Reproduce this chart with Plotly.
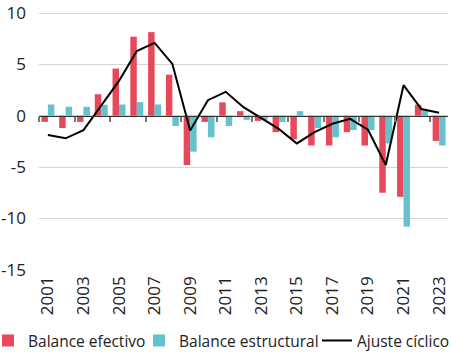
import plotly.graph_objects as go

years = [str(y) for y in range(2001, 2024)]
efectivo = [-0.6, -1.2, -0.6, 2.1, 4.6, 7.7, 8.15, 4.0, -4.8, -0.6, 1.3, 0.45,
            -0.5, -1.6, -2.3, -2.9, -2.9, -1.6, -2.9, -7.5, -7.9, 1.07, -2.45]
estructural = [1.1, 0.87, 0.87, 1.07, 1.1, 1.33, 1.1, -1.0, -3.5, -2.1, -1.0, -0.4,
               -0.4, -0.6, 0.45, -1.2, -2.1, -1.4, -1.4, -2.7, -10.8, 0.55, -2.9]
ajuste = [-1.87, -2.2, -1.4, 1.0, 3.4, 6.3, 7.1, 5.05, -1.43, 1.52, 2.33, 0.84,
          -0.2, -1.3, -2.7, -1.6, -0.78, -0.3, -1.36, -4.8, 2.98, 0.65, 0.29]
y_ticks = [10, 5, 0, -5, -10, -15]
x_labels = years[::2]

RED = "#E8495A"
CYAN = "#64C2CC"
FONT = "Open Sans"
TXT = "#222222"
ymin, ymax = -15.03, 10.5

fig = go.Figure()
fig.add_trace(go.Bar(x=years, y=efectivo, name="Balance efectivo", marker_color=RED,
                     marker_line_width=0, legend="legend"))
fig.add_trace(go.Bar(x=years, y=estructural, name="Balance estructural", marker_color=CYAN,
                     marker_line_width=0, legend="legend2"))
fig.add_trace(go.Scatter(x=years, y=ajuste, name="Ajuste cíclico", mode="lines",
                         xaxis="x2", line=dict(color="black", width=2), legend="legend3"))

leg = dict(xref="container", yref="container", y=0.037, xanchor="left", yanchor="middle",
           font=dict(family=FONT, size=15.5, color=TXT), bgcolor="rgba(0,0,0,0)",
           borderwidth=0, orientation="h")

fig.update_layout(
    width=451, height=354,
    margin=dict(l=39, r=1, t=6, b=84),
    paper_bgcolor="white", plot_bgcolor="white",
    barmode="group", bargap=0.27, bargroupgap=0,
    font=dict(family=FONT, size=16, color=TXT),
    xaxis=dict(type="category", range=[-0.5, len(years) - 0.5], tickvals=x_labels,
               ticktext=x_labels, tickangle=-90, ticks="", showgrid=False,
               showline=False, zeroline=False, ticklabelstandoff=2,
               tickfont=dict(family=FONT, size=17, color=TXT)),
    xaxis2=dict(type="category", overlaying="x", anchor="free",
                position=(0 - ymin) / (ymax - ymin), range=[-0.5, len(years) - 0.5],
                showticklabels=False, ticks="outside", tickson="boundaries", dtick=2,
                ticklen=5, tickwidth=1.5, tickcolor="#777777", showline=True,
                linecolor="#333333", linewidth=1, showgrid=False, zeroline=False),
    yaxis=dict(range=[ymin, ymax], tickvals=y_ticks, ticktext=[str(v) for v in y_ticks],
               showgrid=True, gridcolor="#d4d4d4", gridwidth=1, zeroline=False,
               ticks="", ticklabelstandoff=12, ticklabeloverflow="allow",
               tickfont=dict(family=FONT, size=17, color=TXT)),
    legend=dict(leg, x=0, indentation=-12),
    legend2=dict(leg, x=139 / 451),
    legend3=dict(leg, x=317 / 451),
    showlegend=True,
)

fig.write_html("out.html")
